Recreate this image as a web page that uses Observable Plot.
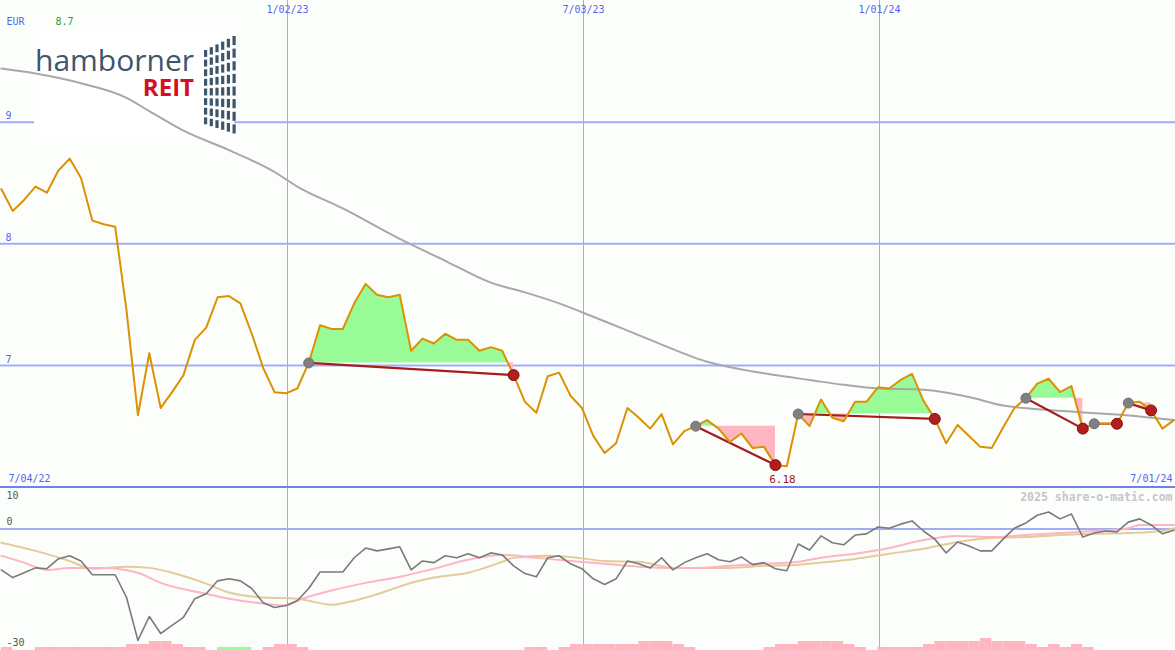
<!DOCTYPE html>
<html><head><meta charset="utf-8">
<script src="https://cdn.jsdelivr.net/npm/d3@7"></script>
<script src="https://cdn.jsdelivr.net/npm/@observablehq/plot@0.6"></script>
<style>
html,body{margin:0;padding:0;background:#fcfefc;}
#chart{width:1175px;height:650px;position:relative;overflow:hidden;background:#fcfefc;}
#chart svg{display:block;background:transparent;}
</style></head><body><div id="chart"></div>
<script>
// ---------- data ----------
const startDate = "2022-07-10"; // first weekly close
const price = [
 8.45,8.27,8.36,8.47,8.42,8.60,8.70,8.54,8.19,8.16,
 8.14,7.45,6.59,7.10,6.65,6.78,6.92,7.21,7.31,7.56,
 7.57,7.51,7.26,6.98,6.78,6.77,6.81,7.02,7.33,7.30,
 7.30,7.51,7.67,7.58,7.56,7.58,7.12,7.22,7.18,7.26,
 7.21,7.21,7.12,7.15,7.12,6.92,6.70,6.61,6.91,6.94,
 6.75,6.65,6.42,6.28,6.36,6.65,6.57,6.48,6.60,6.35,
 6.46,6.50,6.55,6.48,6.37,6.44,6.32,6.33,6.18,6.17,
 6.60,6.50,6.72,6.57,6.54,6.70,6.70,6.82,6.81,6.88,
 6.93,6.71,6.56,6.36,6.51,6.42,6.33,6.32,6.49,6.65,
 6.73,6.85,6.89,6.78,6.83,6.48,6.52,6.52,6.52,6.69,
 6.70,6.63,6.48,6.55
];
const maWeeks  = [0,3,7,11,13,16,20,24,26,30,35,39,43,46,49,52,57,62,66,68,71,74,77,81,85,88,94,100,103];
const maValues = [9.44,9.40,9.32,9.20,9.09,8.93,8.77,8.59,8.47,8.29,8.04,7.86,7.68,7.60,7.51,7.40,7.21,7.03,6.95,6.92,6.88,6.84,6.81,6.80,6.74,6.67,6.62,6.58,6.55];
const segStarts = [27,61,70,90,96,99];
const segEnds   = [45,68,82,95,98,101];
const lowLabel = "6.18";
const topLabel = "8.7";

const osc = [
 -10.1,-12.0,-10.8,-9.6,-9.8,-7.4,-6.6,-7.9,-11.3,-11.3,
 -11.3,-16.9,-27.5,-21.6,-25.8,-23.8,-21.8,-17.2,-16.0,-12.8,
 -12.3,-12.8,-14.7,-18.2,-19.4,-18.9,-17.7,-14.7,-10.6,-10.6,
 -10.6,-7.1,-4.7,-5.4,-4.9,-4.4,-10.1,-7.9,-8.3,-6.6,
 -7.1,-6.1,-7.1,-5.9,-6.4,-9.1,-11.0,-11.8,-7.1,-6.6,
 -8.6,-9.8,-12.3,-13.7,-12.3,-7.9,-8.6,-9.6,-7.1,-10.1,
 -8.3,-7.1,-6.1,-7.6,-8.1,-6.9,-8.8,-8.3,-9.8,-10.3,
 -3.7,-5.2,-1.7,-3.4,-3.9,-1.5,-1.2,0.5,0.2,1.2,
 2.0,-0.5,-2.5,-5.9,-3.2,-4.2,-5.4,-5.4,-2.5,0.2,
 1.5,3.4,4.2,2.5,3.7,-2.0,-1.0,-0.5,-0.7,1.7,
 2.5,1.0,-1.2,-0.3
];
const pinkWeeks  = [0,2,4,6,9,12,14,18,20,23,25,26,29,32,35,38,41,44,47,50,53,56,59,61,64,67,70,72,75,78,81,84,87,90,93,96,99,100,103];
const pinkValues = [-6.6,-8.3,-10.1,-9.6,-9.6,-10.8,-13.3,-16.0,-17.2,-18.4,-18.9,-17.7,-15.2,-13.3,-11.8,-9.8,-7.6,-6.4,-7.1,-7.9,-8.6,-9.3,-9.6,-9.6,-9.1,-8.6,-8.1,-7.1,-6.1,-4.7,-2.7,-1.7,-2.0,-1.5,-1.0,-0.5,0.2,1.0,1.0];
const tanWeeks  = [0,3,6,8,11,13,15,18,20,23,26,29,31,34,35,38,41,44,45,48,50,53,56,59,61,64,67,70,72,75,78,81,84,87,90,93,96,99,102,103];
const tanValues = [-3.4,-5.4,-7.9,-9.8,-9.3,-9.6,-10.8,-13.5,-15.7,-16.9,-17.2,-18.7,-17.7,-15.2,-14.2,-12.0,-10.8,-8.1,-7.1,-6.6,-6.9,-7.9,-8.1,-9.6,-9.6,-9.6,-9.1,-8.8,-8.3,-7.4,-6.1,-4.9,-3.2,-2.2,-2.0,-1.5,-1.2,-1.0,-0.5,0.2];
const barLevels = [
 1,0,0,1,1,1,1,1,1,1,1,2,2,3,3,2,1,1,0,1,1,1,0,1,2,2,1,
 0,0,0,0,0,0,0,0,0,0,0,0,0,0,0,0,0,0,0,
 1,1,0,1,2,2,2,2,2,2,3,3,3,2,1,
 0,0,0,0,0,0,
 1,2,2,3,3,3,3,2,1,0,1,1,1,1,2,3,3,3,3,4,3,3,3,2,1,2,1,2,1,
 0,0,0,0,0,0,0,0
];
const greenBarWeeks = [19,20,21];
const gridDates  = ["2023-01-02","2023-07-03","2024-01-01"];
const gridLabels = ["1/02/23","7/03/23","1/01/24"];
const priceTicks = [7,8,9];
const oscTicks = [10,0,-30];
const firstLabel = "7/04/22", lastLabel = "7/01/24";
const currency = "EUR";
const credit = "2025 share-o-matic.com";

// ---------- helpers ----------
const DAY = 864e5;
const t0 = new Date(startDate + "T00:00:00Z").getTime();
const wk = t => new Date(t0 + t * 7 * DAY);
const xDomain = [new Date(Date.UTC(2022,6,9,12)), new Date(Date.UTC(2024,6,1))];
const W = 1175;
const C = {grid:"#a2adf5", vgrid:"#9eaaf6", axis:"#7080f0", label:"#5566ee", price:"#dc9200", ma:"#a8a8a8",
  green:"#98fb98", pink:"#ffb6c1", trend:"#a51c1c", gray:"#808080", red:"#b01e1e"};
const mono = "DejaVu Sans Mono";

const priceData = price.map((v,k)=>({date:wk(k), v}));
const maData = maWeeks.map((k,i)=>({date:wk(k), v:maValues[i]}));
const segs = segStarts.map((s,i)=>({s, e:segEnds[i], lvl:price[s]}));
const fillPts = [];
segs.forEach((sg,si)=>{
  for(let k=sg.s;k<=sg.e;k++){
    if(k>sg.s){
      const pv=price[k-1], v=price[k];
      if((pv-sg.lvl)*(v-sg.lvl)<0){ const f=(sg.lvl-pv)/(v-pv); fillPts.push({seg:si, date:wk(k-1+f), v:sg.lvl, lvl:sg.lvl}); }
    }
    fillPts.push({seg:si, date:wk(k), v:price[k], lvl:sg.lvl});
  }
});
const trendLinks = segs.map(sg=>({x1:wk(sg.s), y1:price[sg.s], x2:wk(sg.e), y2:price[sg.e]}));
const startPts = segs.map(sg=>({date:wk(sg.s), v:price[sg.s]}));
const endPts = segs.map(sg=>({date:wk(sg.e), v:price[sg.e]}));
const gridD = gridDates.map(d=>new Date(d+"T00:00:00Z"));

function logo(){
  const g = d3.create("svg:g").attr("text-anchor","start");
  g.append("rect").attr("x",34).attr("y",30).attr("width",200).attr("height",108).attr("fill","#ffffff");
  const t = g.append("text").attr("x",35).attr("y",71).attr("text-anchor","start").attr("font-family","Open Sans");
  t.append("tspan").attr("font-size",30).attr("fill","#3d566b").text("hamborner");
  t.append("tspan").attr("x",194).attr("y",96).attr("text-anchor","end").attr("font-weight",700)
    .attr("font-size",24).attr("fill","#d40f1f").text("REIT");
  for(let c=0;c<6;c++){
    const x=204+c*5.7, top=50-c*2.8, bot=127+c*2, rows=8, pitch=(bot-top)/rows;
    for(let r=0;r<rows;r++){
      g.append("rect").attr("x",x).attr("y",top+r*pitch).attr("width",3.2).attr("height",pitch*0.72).attr("fill","#3d566b");
    }
  }
  return g.node();
}

// ---------- main panel ----------
const main = Plot.plot({
  width: W, height: 488, marginTop: 0, marginBottom: 1.5, marginLeft: 0, marginRight: 0,
  x: {type:"utc", domain:xDomain, axis:null},
  y: {domain:[6,10], axis:null},
  style: {background:"transparent", overflow:"visible"},
  marks: [
    Plot.ruleY(priceTicks, {stroke:C.grid, strokeWidth:2}),
    Plot.ruleX(gridD, {stroke:C.vgrid, strokeWidth:1, shapeRendering:"crispEdges"}),
    logo,
    Plot.areaY(fillPts, {x:"date", y1:"lvl", y2:d=>Math.max(d.v,d.lvl), z:"seg", fill:C.green, curve:"linear"}),
    Plot.areaY(fillPts, {x:"date", y1:"lvl", y2:d=>Math.min(d.v,d.lvl), z:"seg", fill:C.pink, curve:"linear"}),
    Plot.line(maData, {x:"date", y:"v", stroke:C.ma, strokeWidth:2, curve:"monotone-x"}),
    Plot.ruleY([6], {stroke:C.axis, strokeWidth:2}),
    Plot.link(trendLinks, {x1:"x1", y1:"y1", x2:"x2", y2:"y2", stroke:C.trend, strokeWidth:2.2}),
    Plot.line(priceData, {x:"date", y:"v", stroke:C.price, strokeWidth:2}),
    Plot.dot(startPts, {x:"date", y:"v", r:5, fill:C.gray, stroke:"#707070", strokeWidth:1}),
    Plot.dot(endPts, {x:"date", y:"v", r:5.5, fill:C.red, stroke:"#8a1010", strokeWidth:1}),
    Plot.text(gridD, {x:d=>d, text:(d,i)=>gridLabels[i], frameAnchor:"top", lineAnchor:"middle", dy:9.5,
      fill:C.label, fontSize:10, fontFamily:mono}),
    Plot.text(priceTicks, {y:d=>d, text:d=>String(d), frameAnchor:"left", textAnchor:"start", lineAnchor:"middle",
      dx:5, dy:-6, fill:C.label, fontSize:10, fontFamily:mono}),
    Plot.text([currency], {frameAnchor:"top-left", textAnchor:"start", lineAnchor:"middle", dx:6, dy:21,
      fill:C.label, fontSize:10, fontFamily:mono}),
    Plot.text([topLabel], {frameAnchor:"top-left", textAnchor:"start", lineAnchor:"middle", dx:55, dy:21,
      fill:"#2f9a2f", fontSize:10, fontFamily:mono}),
    Plot.text([firstLabel], {frameAnchor:"bottom-left", textAnchor:"start", lineAnchor:"middle", dx:8, dy:-8,
      fill:C.label, fontSize:10, fontFamily:mono}),
    Plot.text([lastLabel], {frameAnchor:"bottom-right", textAnchor:"end", lineAnchor:"middle", dx:-3, dy:-8,
      fill:C.label, fontSize:10, fontFamily:mono}),
    Plot.text([{date:wk(68), v:price[68]}], {x:"date", y:"v", text:()=>lowLabel, lineAnchor:"middle", dx:7, dy:14.5,
      fill:"#a01818", fontSize:11, fontFamily:mono})
  ]
});

// ---------- lower panel ----------
const oscData = osc.map((v,k)=>({date:wk(k), v}));
const pinkData = pinkWeeks.map((k,i)=>({date:wk(k), v:pinkValues[i]}));
const tanData = tanWeeks.map((k,i)=>({date:wk(k), v:tanValues[i]}));
const bars = [];
barLevels.forEach((l,k)=>{ if(l>0) bars.push({x1:wk(k), x2:wk(k+1), top:-30 + l*0.74, green:greenBarWeeks.includes(k)}); });
const tickText = {fill:"#555", fontSize:10, fontFamily:mono, frameAnchor:"left", textAnchor:"start", lineAnchor:"middle", dx:6};

const lower = Plot.plot({
  width: W, height: 162, marginTop: 0, marginBottom: 0, marginLeft: 0, marginRight: 0,
  x: {type:"utc", domain:xDomain, axis:null},
  y: {domain:[-30,10], axis:null},
  style: {background:"transparent", overflow:"visible"},
  marks: [
    Plot.ruleX(gridD, {stroke:C.vgrid, strokeWidth:1, shapeRendering:"crispEdges"}),
    Plot.ruleY([0], {stroke:C.grid, strokeWidth:2}),
    Plot.rectY(bars, {x1:"x1", x2:"x2", y1:-30, y2:"top", fill:d=>d.green?C.green:C.pink}),
    Plot.line(tanData, {x:"date", y:"v", stroke:"#e4cc98", strokeWidth:2, curve:"monotone-x"}),
    Plot.line(pinkData, {x:"date", y:"v", stroke:"#ffb4c4", strokeWidth:2, curve:"monotone-x"}),
    Plot.line(oscData, {x:"date", y:"v", stroke:"#7a7a7a", strokeWidth:1.6}),
    Plot.text([oscTicks[0]], {...tickText, y:d=>d, text:d=>String(d), dy:7.5}),
    Plot.text([oscTicks[1]], {...tickText, y:d=>d, text:d=>String(d), dy:-7}),
    Plot.text([oscTicks[2]], {...tickText, y:d=>d, text:d=>String(d), dy:-8}),
    Plot.text([credit], {frameAnchor:"top-right", textAnchor:"end", lineAnchor:"middle", dx:-3, dy:8.5,
      fill:"#c6c6c6", fontSize:11.5, fontWeight:"bold", fontFamily:mono})
  ]
});

document.getElementById("chart").append(main, lower);
</script>
</body></html>
